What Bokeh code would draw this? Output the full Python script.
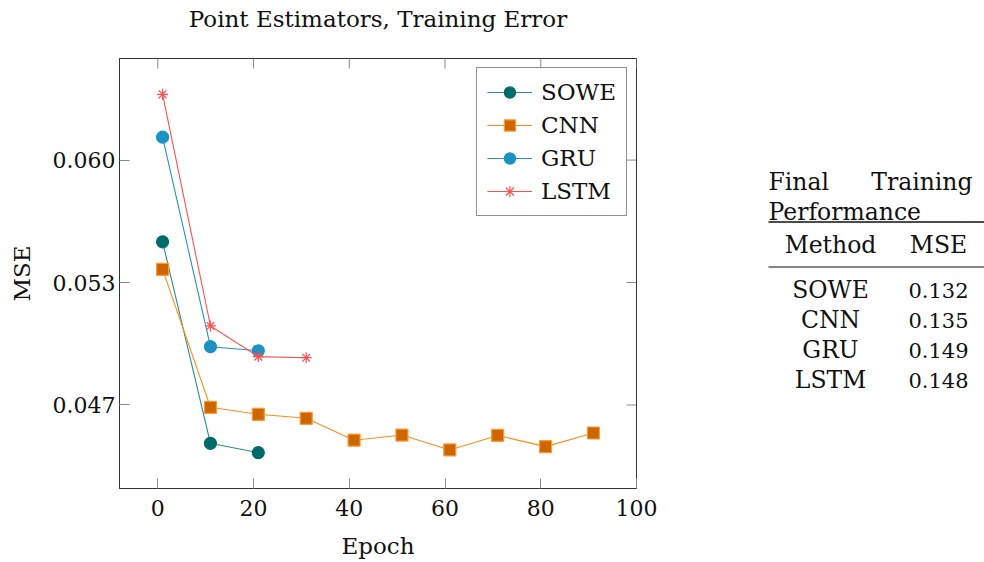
from bokeh.plotting import figure
from bokeh.models import Range1d, FixedTicker, Legend, LegendItem, NumeralTickFormatter, ColumnDataSource
from bokeh.layouts import row, column
from bokeh.embed import file_html
from bokeh.resources import INLINE
from bokeh.core.properties import value

# ---------------- data ----------------
epochs_sowe = [1, 11, 21]
mse_sowe = [0.05555, 0.04458, 0.04407]
epochs_cnn = [1, 11, 21, 31, 41, 51, 61, 71, 81, 91]
mse_cnn = [0.05405, 0.04654, 0.04616, 0.04594, 0.04475, 0.04503, 0.04422, 0.04501, 0.04440, 0.04514]
epochs_gru = [1, 11, 21]
mse_gru = [0.06125, 0.04984, 0.04962]
epochs_lstm = [1, 11, 21, 31]
mse_lstm = [0.06358, 0.05097, 0.04930, 0.04924]

x_ticks = [0, 20, 40, 60, 80, 100]
y_ticks = [0.0466667, 0.0533333, 0.0600]

methods = ["SOWE", "CNN", "GRU", "LSTM"]
final_mse = ["0.132", "0.135", "0.149", "0.148"]

TITLE = "Point Estimators, Training Error"
FONT = "DejaVu Serif"
INK = "#111111"

# ranges with 10% enlargement like pgfplots
all_x = epochs_sowe + epochs_cnn + epochs_gru + epochs_lstm
all_y = mse_sowe + mse_cnn + mse_gru + mse_lstm
xpad = 0.1 * (max(all_x) - min(all_x))
ypad = 0.1 * (max(all_y) - min(all_y))
xmin, xmax = min(all_x) - xpad, max(all_x) + xpad
ymin, ymax = min(all_y) - ypad, max(all_y) + ypad

PAGE_W = 984
TH = 40                      # title strip height
BL, BT, BB, BR = 119, 18, 66, 32
FW, FH = 517, 430
FRAME_TOP = TH + BT          # page y of the plot frame top

# ---------------- title strip ----------------
ttl = figure(width=PAGE_W, height=TH, output_backend="svg", toolbar_location=None,
             x_range=Range1d(0, PAGE_W), y_range=Range1d(TH, 0), min_border=0)
ttl.axis.visible = False
ttl.grid.visible = False
ttl.outline_line_color = None
ttl.text(x=[BL + FW / 2], y=[18], text=[TITLE], text_align="center", text_baseline="middle",
         text_font=value(FONT), text_font_size=value("23px"), text_color=INK)

# ---------------- main plot ----------------
p = figure(width=BL + FW + BR, height=BT + FH + BB, output_backend="svg", toolbar_location=None,
           x_range=Range1d(xmin, xmax), y_range=Range1d(ymin, ymax),
           frame_width=FW, frame_height=FH,
           min_border_left=BL, min_border_top=BT, min_border_bottom=BB, min_border_right=BR)
p.grid.visible = False
p.outline_line_color = "#333333"
p.outline_line_width = 1

p.xaxis.ticker = FixedTicker(ticks=x_ticks)
p.yaxis.ticker = FixedTicker(ticks=y_ticks)
p.yaxis.formatter = NumeralTickFormatter(format="0.000")
for ax in [p.xaxis[0], p.yaxis[0]]:
    ax.major_tick_in = 10
    ax.major_tick_out = 0
    ax.minor_tick_line_color = None
    ax.major_tick_line_color = "#8a8a8a"
    ax.axis_line_color = "#333333"
    ax.major_label_text_font = FONT
    ax.major_label_text_font_size = "22px"
    ax.major_label_text_color = INK
    ax.axis_label_text_font = FONT
    ax.axis_label_text_font_size = "23px"
    ax.axis_label_text_font_style = "normal"
    ax.axis_label_text_color = INK
p.xaxis.axis_label = "Epoch"
p.yaxis.axis_label = "MSE"
p.xaxis.major_label_standoff = 11
p.xaxis.axis_label_standoff = 14
p.yaxis.major_label_standoff = 4
p.yaxis.axis_label_standoff = 15

# mirrored tick marks on top and right edges
p.ray(x=x_ticks, y=[ymax] * len(x_ticks), length=10, length_units="screen",
      angle=-90, angle_units="deg", line_color="#8a8a8a", line_width=1)
p.ray(x=[xmax] * len(y_ticks), y=y_ticks, length=10, length_units="screen",
      angle=180, angle_units="deg", line_color="#8a8a8a", line_width=1)

series = [
    ("SOWE", epochs_sowe, mse_sowe, "#2a8c8c", "#006b6b", "#006b6b", "circle", 12),
    ("CNN", epochs_cnn, mse_cnn, "#ff8c1a", "#cc6600", "#ff9a33", "square", 12),
    ("GRU", epochs_gru, mse_gru, "#2b8fb5", "#1a92c2", "#1a92c2", "circle", 12),
    ("LSTM", epochs_lstm, mse_lstm, "#ff5050", None, "#ff5050", "asterisk", 11),
]
items = []
for name, xs, ys, lc, fc, mc, marker, size in series:
    src = ColumnDataSource(dict(x=xs, y=ys))
    r1 = p.line("x", "y", source=src, line_color=lc, line_width=1.1)
    r2 = p.scatter("x", "y", source=src, marker=marker, size=size,
                   fill_color=fc, line_color=mc, line_width=1.2)
    items.append(LegendItem(label=name, renderers=[r1, r2]))

legend = Legend(items=items, location="top_right", margin=9, padding=10, spacing=5,
                glyph_width=45, glyph_height=28, label_standoff=9,
                label_text_font=FONT, label_text_font_size="23px", label_text_color=INK,
                border_line_color="#222222", border_line_width=1, background_fill_alpha=1)
p.add_layout(legend)

# ---------------- table panel (frame aligned with the plot frame) ----------------
X0 = BL + FW + BR
X1 = PAGE_W
t = figure(width=X1 - X0, height=BT + FH + BB, output_backend="svg", toolbar_location=None,
           x_range=Range1d(X0, X1), y_range=Range1d(FRAME_TOP + FH, FRAME_TOP),
           frame_height=FH, min_border_left=0, min_border_right=0,
           min_border_top=BT, min_border_bottom=BB)
t.axis.visible = False
t.grid.visible = False
t.outline_line_color = None

tf = value(FONT)
wsize = value("23.5px")
nsize = value("21px")
common = dict(text_font=tf, text_baseline="alphabetic", text_color=INK)
dy = -7  # baseline correction
t.text(x=[768], y=[188 + dy], text=["Final"], text_font_size=wsize, text_align="left", **common)
t.text(x=[972], y=[188 + dy], text=["Training"], text_font_size=wsize, text_align="right", **common)
t.text(x=[768], y=[218 + dy], text=["Performance"], text_font_size=wsize, text_align="left", **common)
t.segment(x0=[768], y0=[221.5], x1=[X1], y1=[221.5], line_color=INK, line_width=1.6)
t.text(x=[830, 938], y=[251 + dy, 251 + dy], text=["Method", "MSE"], text_font_size=wsize,
       text_align="center", **common)
t.segment(x0=[768], y0=[266.5], x1=[X1], y1=[266.5], line_color=INK, line_width=1)
row_y = [296.7 + dy + 30 * i for i in range(len(methods))]
t.text(x=[830] * len(methods), y=row_y, text=methods, text_font_size=wsize,
       text_align="center", **common)
t.text(x=[938] * len(final_mse), y=row_y, text=final_mse, text_font_size=nsize,
       text_align="center", **common)

layout = column(ttl, row(p, t))
open("out.html", "w").write(file_html(layout, INLINE))
